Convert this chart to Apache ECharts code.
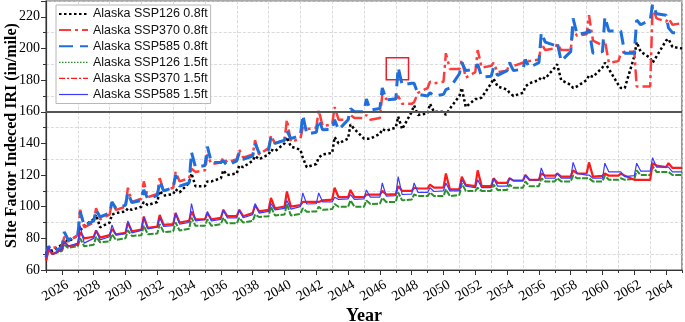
<!DOCTYPE html>
<html>
<head>
<meta charset="utf-8">
<script src="https://cdn.jsdelivr.net/npm/echarts@6/dist/echarts.min.js"></script>
<style>
html, body { margin: 0; padding: 0; background: #fff; }
#main { width: 685px; height: 322px; }
</style>
</head>
<body>
<div id="main"></div>
<script>
// one entry per year; start/peak/low are read at these offsets into the year
var years = [2025, 2026, 2027, 2028, 2029, 2030, 2031, 2032, 2033, 2034,
             2035, 2036, 2037, 2038, 2039, 2040, 2041, 2042, 2043, 2044,
             2045, 2046, 2047, 2048, 2049, 2050, 2051, 2052, 2053, 2054,
             2055, 2056, 2057, 2058, 2059, 2060, 2061, 2062, 2063, 2064];
var endYear = 2065;
var phase = [0, 0.15, 0.4];

// Alaska SSP126 0.8ft (start has one extra value for endYear)
var ssp126_08_start = [70, 76, 82, 92, 90, 97, 100, 103, 108, 115, 113, 118, 121, 129, 133, 140, 136, 127, 134, 143,
                       143, 146, 150, 160, 159, 160, 170, 168, 178, 174, 172, 180, 188, 177, 180, 188, 177, 195, 194, 205, 200];
var ssp126_08_peak = [74, 79, 85, 95, 95, 99, 103, 110, 111, 121, 116, 123, 126, 132, 136, 144, 131, 131, 144, 152,
                      143, 149, 157, 164, 165, 158, 175, 168, 181, 172, 176, 182, 190, 175, 183, 191, 175, 204, 191, 206];
var ssp126_08_low = [72, 78, 88, 87, 96, 98, 101, 107, 109, 113, 116, 120, 125, 130, 135, 138, 125, 133, 140, 149,
                     143, 148, 149, 158, 160, 162, 163, 169, 176, 170, 178, 181, 180, 176, 182, 187, 175, 198, 195, 201];

// Alaska SSP370 0.8ft
var ssp370_08_start = [66, 75, 82, 90, 95, 100, 105, 108, 112, 118, 123, 128, 130, 133, 137, 142, 143, 150, 152, 155,
                       156, 156, 168, 165, 175, 179, 187, 185, 189, 186, 191, 193, 200, 199, 209, 202, 192, 198, 176, 217, 216];
var ssp370_08_peak = [72, 81, 98, 99, 103, 112, 116, 118, 122, 124, 133, 131, 136, 142, 145, 155, 150, 161, 163, 158,
                      158, 171, 170, 166, 179, 197, 193, 199, 191, 191, 193, 203, 203, 212, 221, 205, 197, 176, 226, 219];
var ssp370_08_low = [74, 78, 87, 92, 98, 103, 106, 110, 116, 122, 127, 128, 131, 133, 140, 141, 149, 151, 155, 156,
                     155, 168, 165, 172, 178, 187, 181.5, 188, 185, 189, 192, 199, 199, 208, 205, 191, 198, 176, 219, 215];

// Alaska SSP585 0.8ft
var ssp585_08_start = [68, 74, 82, 91, 96, 101, 104, 107, 112, 115, 126, 128, 129, 132, 136, 142, 145, 147, 149, 155,
                       160, 162, 168, 178, 170, 171, 184, 187, 182.5, 186, 187, 191, 202, 198, 210, 198, 211, 197, 218, 221, 210];
var ssp585_08_peak = [75, 84, 97, 98, 103, 109, 110.6, 116, 120, 134.5, 138, 129, 134, 140, 144, 148, 158, 155, 155, 162,
                      168, 175, 188, 178, 172, 174, 191, 190, 188, 191, 193, 210, 204, 219, 212, 220, 211, 218, 228, 213];
var ssp585_08_low = [72, 79, 88, 93.5, 99, 102.6, 105, 110, 113, 125, 128, 126, 130, 134, 140, 143, 146, 148.6, 148.6, 160,
                     161, 167.6, 177, 171, 170, 175, 186, 182, 183, 186, 188, 204, 192, 209, 197, 211, 197, 215, 222, 210];

// Alaska SSP126 1.5ft
var ssp126_15_start = [68, 72, 75, 76, 78, 80, 82, 83, 84.5, 86, 88, 89, 89.5, 91, 94, 95, 95.5, 97, 98.5, 100,
                       100, 102, 103, 104.5, 106.7, 106.7, 107.5, 110, 110, 110.6, 112, 113, 116, 116, 118, 116, 117, 117.5, 120, 122, 120];
var ssp126_15_peak = [73, 75.8, 80, 81, 82.6, 85, 88, 89, 90, 93, 92, 93, 93, 95, 100, 101.7, 99, 100, 101.7, 104,
                      104, 105.6, 109, 107.7, 109, 111, 114.7, 112, 114, 114, 116, 118, 118, 119.6, 118, 119.6, 118, 123, 125.5, 122];
var ssp126_15_low = [70, 74, 75, 77.5, 79, 81.5, 82.6, 84, 85, 88, 88, 89.5, 90, 93.5, 94.5, 94.5, 96.8, 98, 100, 100,
                     101.7, 103, 104, 106.7, 106.7, 106.7, 110, 110, 110.6, 112, 113, 116, 116, 118, 116, 117, 117, 120, 122, 120];

// Alaska SSP370 1.5ft
var ssp370_15_start = [66, 73, 76, 81, 82, 83.5, 85.5, 87.5, 89, 91, 92, 93, 94, 96, 98, 100, 101, 103, 104.5, 106,
                       106, 107.6, 108, 110, 111.5, 112, 111, 113, 113, 115, 116.5, 117, 119.6, 119, 121, 119.5, 119.6, 117, 117, 125, 124.5];
var ssp370_15_peak = [74, 78, 84, 85, 86, 90, 93.8, 94.8, 96, 97, 96, 98, 98, 101, 105.5, 109.6, 103, 103, 112, 110.6,
                      107.7, 110, 113, 112, 114, 121, 119, 123, 118, 118, 120, 121, 121, 123, 128, 121, 121, 117, 127.5, 127.5];
var ssp370_15_low = [70, 75, 80, 80.5, 82.5, 84.5, 86.6, 88.5, 90, 92, 92, 94, 94, 97, 99, 100, 103, 104, 106, 106,
                     107.6, 107.7, 110, 111.5, 112, 111, 113.8, 113, 115, 116.5, 117, 119.6, 119, 121, 119, 119.6, 119.6, 117, 126, 124.5];

// Alaska SSP585 1.5ft
var ssp585_15_start = [68, 73, 77, 80, 81, 83, 85, 87, 88, 90, 92, 92, 93, 95, 97, 99, 100, 102, 103, 105,
                       105, 106, 107, 108, 109, 110, 110, 112, 112, 113, 116.5, 117, 118, 118, 120, 118, 122, 119.6, 122.5, 125, 122];
var ssp585_15_peak = [75, 78, 88, 85, 88.5, 91, 93.5, 93, 96, 102, 97, 98, 98, 102, 102, 104, 108.7, 108.7, 106, 107.7,
                      110.6, 115, 119, 115, 112, 115, 117, 117, 118, 118, 120, 124.5, 121, 128, 120, 127.5, 122, 127.5, 131, 125];
var ssp585_15_low = [70, 75, 77, 79, 82, 83.5, 86, 87.5, 89, 91, 91, 93, 93, 96, 98, 98.5, 101.7, 103, 104.6, 104.6,
                     106, 106.7, 107.7, 109, 109.6, 110, 113, 112, 113, 116.5, 117, 118, 118, 121, 118, 122, 119, 122.5, 125, 122];

var refLine = 160;
var highlightBox = [[2046.4, 194.2], [2047.8, 180.3]];

function build(start, peak, low) {
  var d = [];
  for (var i = 0; i < years.length; i++) {
    d.push([years[i] + phase[0], start[i]]);
    d.push([years[i] + phase[1], peak[i]]);
    d.push([years[i] + phase[2], low[i]]);
  }
  d.push([endYear, start[years.length]]);
  return d;
}

var serif = '"Liberation Serif", "Times New Roman", serif';
var gridColor = '#d2d2d2';

var myChart = echarts.init(document.getElementById('main'));
var option = {
  animation: false,
  backgroundColor: '#fff',
  grid: {
    left: 46,
    right: 3,
    top: 1,
    bottom: 52,
    show: true,
    borderColor: '#555',
    borderWidth: 1.2,
    outerBoundsMode: 'none'
  },
  legend: {
    orient: 'vertical',
    left: 56,
    top: 5,
    padding: [2, 3, 2, 2],
    itemWidth: 29,
    itemHeight: 14,
    itemGap: 2.1,
    backgroundColor: '#fff',
    borderColor: '#b8b8b8',
    borderWidth: 1,
    itemStyle: { opacity: 0 },
    textStyle: {
      fontFamily: '"Liberation Sans", Arial, sans-serif',
      fontSize: 12.5,
      color: '#111',
      lineHeight: 14
    },
    data: [
      'Alaska SSP126 0.8ft', 'Alaska SSP370 0.8ft', 'Alaska SSP585 0.8ft',
      { name: 'Alaska SSP126 1.5ft', lineStyle: { width: 1.2, type: [1.5, 1.5] } },
      { name: 'Alaska SSP370 1.5ft', lineStyle: { width: 1.2, type: [6, 2, 2, 2] } },
      { name: 'Alaska SSP585 1.5ft', lineStyle: { width: 1.2 } }
    ]
  },
  xAxis: [
    {
      // data axis: a short tick every year, labels on even years
      type: 'value',
      min: 2025,
      max: 2065,
      interval: 1,
      axisLine: { lineStyle: { color: '#333', width: 1.2 } },
      axisTick: { length: 3, lineStyle: { color: '#333' } },
      splitLine: { show: false },
      axisLabel: {
        rotate: 30,
        margin: 17,
        align: 'center',
        verticalAlign: 'middle',
        padding: [0, 15, 0, 0],
        fontFamily: serif,
        fontSize: 14,
        color: '#000',
        formatter: function (v) { return v % 2 === 0 ? String(v) : ''; }
      },
      name: 'Year',
      nameLocation: 'middle',
      nameGap: 37,
      nameMoveOverlap: false,
      nameTextStyle: { fontFamily: serif, fontSize: 18, fontWeight: 'bold', color: '#000' }
    },
    {
      // odd-year grid lines, longer ticks on even years
      type: 'value',
      position: 'bottom',
      min: 2025,
      max: 2065,
      interval: 2,
      axisLine: { show: false },
      axisTick: { show: false },
      axisLabel: { show: false },
      minorTick: { show: true, splitNumber: 2, length: 5, lineStyle: { color: '#333' } },
      splitLine: { show: true, lineStyle: { color: gridColor, type: 'dashed', width: 0.8 } }
    }
  ],
  yAxis: [
    {
      type: 'value',
      min: 60,
      max: 230,
      interval: 10,
      axisLine: { show: true, lineStyle: { color: '#333', width: 1.2 } },
      axisTick: { show: true, length: 3, lineStyle: { color: '#333' } },
      axisLabel: {
        margin: 6,
        fontFamily: serif,
        fontSize: 14,
        color: '#000',
        formatter: function (v) { return (v % 20 === 0 && v <= 220) ? String(v) : ''; }
      },
      splitLine: {
        show: true,
        lineStyle: { color: ['rgba(0,0,0,0)', gridColor], type: 'dashed', width: 0.8 }
      },
      name: 'SIte Factor Indeced IRI (in/mile)',
      nameLocation: 'middle',
      nameGap: 26,
      nameMoveOverlap: false,
      nameTextStyle: { fontFamily: serif, fontSize: 16, fontWeight: 'bold', color: '#000' }
    },
    {
      type: 'value',
      position: 'left',
      min: 60,
      max: 230,
      interval: 20,
      axisLine: { show: false },
      axisTick: { show: true, length: 5, lineStyle: { color: '#333' } },
      axisLabel: { show: false },
      splitLine: { show: false }
    }
  ],
  series: [
    {
      name: 'Alaska SSP126 0.8ft',
      type: 'line',
      symbol: 'none',
      data: build(ssp126_08_start, ssp126_08_peak, ssp126_08_low),
      itemStyle: { color: '#000' },
      lineStyle: { color: '#000', width: 2.5, type: [2.5, 2.5] },
      markLine: {
        silent: true,
        symbol: 'none',
        label: { show: false },
        lineStyle: { color: '#555', width: 2, type: 'solid' },
        data: [{ yAxis: refLine }]
      }
    },
    {
      name: 'Alaska SSP370 0.8ft',
      type: 'line',
      symbol: 'none',
      data: build(ssp370_08_start, ssp370_08_peak, ssp370_08_low),
      itemStyle: { color: '#ff3c3c' },
      lineStyle: { color: '#ff3c3c', width: 2.5, type: [12, 4, 3, 4] }
    },
    {
      name: 'Alaska SSP585 0.8ft',
      type: 'line',
      symbol: 'none',
      data: build(ssp585_08_start, ssp585_08_peak, ssp585_08_low),
      itemStyle: { color: '#1e6fdc' },
      lineStyle: { color: '#1e6fdc', width: 3, type: [14, 7] },
      markArea: {
        silent: true,
        itemStyle: { color: 'rgba(0,0,0,0)', borderColor: '#e8202a', borderWidth: 1.5 },
        data: [[{ coord: highlightBox[0] }, { coord: highlightBox[1] }]]
      }
    },
    {
      name: 'Alaska SSP126 1.5ft',
      type: 'line',
      symbol: 'none',
      data: build(ssp126_15_start, ssp126_15_peak, ssp126_15_low),
      itemStyle: { color: '#2b8f2b' },
      lineStyle: { color: '#2b8f2b', width: 2, type: [6, 1.5] }
    },
    {
      name: 'Alaska SSP370 1.5ft',
      type: 'line',
      symbol: 'none',
      data: build(ssp370_15_start, ssp370_15_peak, ssp370_15_low),
      itemStyle: { color: '#ff1a1a' },
      lineStyle: { color: '#ff1a1a', width: 2.2 }
    },
    {
      name: 'Alaska SSP585 1.5ft',
      type: 'line',
      symbol: 'none',
      data: build(ssp585_15_start, ssp585_15_peak, ssp585_15_low),
      itemStyle: { color: '#3b3bff' },
      lineStyle: { color: '#3b3bff', width: 1.2 }
    }
  ]
};

myChart.setOption(option);
</script>
</body>
</html>
